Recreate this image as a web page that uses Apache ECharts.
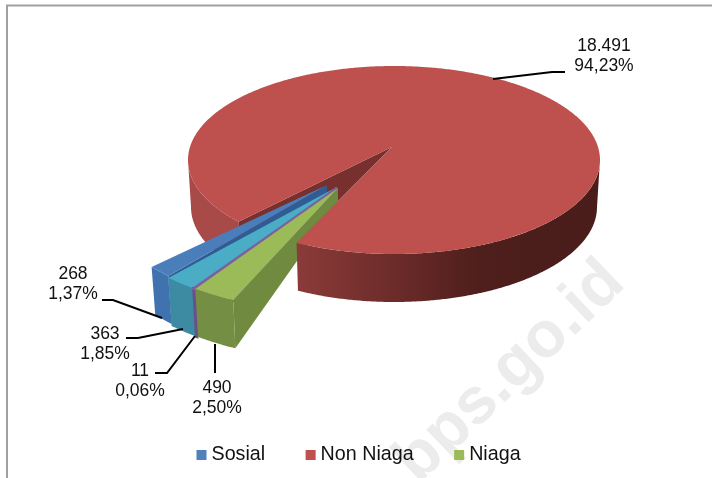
<!DOCTYPE html>
<html><head><meta charset="utf-8">
<style>html,body{margin:0;padding:0;background:#fff}#c{width:712px;height:478px}</style>
<script src="https://cdn.jsdelivr.net/npm/echarts@6/dist/echarts.min.js"></script>
</head><body><div id="c"></div>
<script>
const categories = ['Sosial', 'Non Niaga', 'Niaga', 'Lain 1', 'Lain 2'];
const values = [268, 18491, 490, 11, 363];
const valueLabels = ['268', '18.491', '490', '11', '363'];
const percentLabels = ['1,37%', '94,23%', '2,50%', '0,06%', '1,85%'];
const legendNames = ['Sosial', 'Non Niaga', 'Niaga'];
const watermark = 'bps.go.id';

const FONT = '"Liberation Sans", Arial, sans-serif';
const total = values.reduce((a, b) => a + b, 0);
const MAIN = {cx: 394, cy: 160, rx: 206, ry: 94, bx: 394, by: 207, brx: 203, bry: 95, apex: [392, 147], start: 139};
const WEDGE = {cx: 335, cy: 187, rx: 243, ry: 125, start: 115, end: 139, h: 48, lean: 0.02, hApex: 15};
const wedgeOrder = [2, 3, 4, 0];
const smallTotal = wedgeOrder.reduce((s, i) => s + values[i], 0);
const look = {
  0: {top: '#4a7ebb', front: '#3f72ae', side: '#2f5c94', apex: [327, 185], shift: [0, -2]},
  4: {top: '#4aacc5', front: '#3d8ba2', side: '#367f94', apex: [335, 188], shift: [0, 0]},
  3: {top: '#7d5fa0', front: '#6b4f8c', side: '#6b4f8c', apex: [337, 188], shift: [0, 0], stroke: 2.6},
  2: {top: '#9bbb59', front: '#748e43', side: '#708a40', apex: [338, 188], shift: [1, 0]}
};
const labels = {
  0: {x: 73, y: 284, line: [[102, 300], [113, 300], [162, 318]]},
  1: {x: 604, y: 56, line: [[493, 79], [552, 72], [565, 72]]},
  2: {x: 217, y: 398, line: [[215, 373], [215, 344]]},
  3: {x: 140, y: 381, line: [[155, 373], [167, 373], [195, 336]]},
  4: {x: 105, y: 344, line: [[126, 338], [138, 338], [183, 329]]}
};

function pt(cx, cy, rx, ry, d) {
  const a = d * Math.PI / 180;
  return [cx + rx * Math.cos(a), cy + ry * Math.sin(a)];
}
function arc(cx, cy, rx, ry, a, b) {
  const n = Math.max(2, Math.ceil(Math.abs(b - a) * 2));
  const out = [];
  for (let i = 0; i <= n; i++) out.push(pt(cx, cy, rx, ry, a + (b - a) * i / n));
  return out;
}
const poly = (points, fill, extra) => ({type: 'polygon', shape: {points}, style: Object.assign({fill}, extra || {}), silent: true});

function labelEls(i) {
  const L = labels[i];
  return [
    {type: 'polyline', shape: {points: L.line}, style: {stroke: '#000', lineWidth: 2, fill: null}, silent: true},
    {type: 'text', x: L.x, y: L.y, silent: true, style: {
      text: valueLabels[i] + '\n' + percentLabels[i], fill: '#111', fontSize: 17.5, fontFamily: FONT,
      align: 'center', verticalAlign: 'middle', lineHeight: 20}}
  ];
}

const mainEnd = MAIN.start + 360 * values[1] / total;
function mainBack() {
  const cL = pt(MAIN.cx, MAIN.cy, MAIN.rx, MAIN.ry, MAIN.start);
  const cR = pt(MAIN.cx, MAIN.cy, MAIN.rx, MAIN.ry, mainEnd);
  const wallTop = arc(MAIN.cx, MAIN.cy, MAIN.rx, MAIN.ry, MAIN.start, 180);
  const wallBot = arc(MAIN.bx, MAIN.by, MAIN.brx, MAIN.bry, 180, MAIN.start);
  return {type: 'group', children: [
    poly(wallTop.concat(wallBot), '#a84a47'),
    poly([cL, MAIN.apex, cR, [cR[0], cR[1] + 6], [cL[0], cL[1] + 20]], '#77302e')
  ]};
}
function mainFront() {
  const wallTop = arc(MAIN.cx, MAIN.cy, MAIN.rx, MAIN.ry, mainEnd - 360, 0);
  const wallBot = arc(MAIN.bx, MAIN.by, MAIN.brx, MAIN.bry, 0, mainEnd - 360);
  const top = arc(MAIN.cx, MAIN.cy, MAIN.rx, MAIN.ry, MAIN.start, mainEnd);
  top.unshift(MAIN.apex);
  const grad = new echarts.graphic.LinearGradient(0, 0, 1, 0, [
    {offset: 0, color: '#8b3b39'}, {offset: 0.33, color: '#6b2b29'},
    {offset: 0.6, color: '#4e1f1c'}, {offset: 1, color: '#4a1d1a'}]);
  return {type: 'group', children: [
    poly(wallTop.concat(wallBot), grad),
    poly(top, '#be504d')
  ].concat(labelEls(1))};
}
function wedge(i) {
  let before = 0;
  for (const k of wedgeOrder) { if (k === i) break; before += values[k]; }
  const span = WEDGE.end - WEDGE.start;
  const a = WEDGE.start + span * before / smallTotal;
  const b = a + span * values[i] / smallTotal;
  const s = look[i];
  const rim = arc(WEDGE.cx + s.shift[0], WEDGE.cy + s.shift[1], WEDGE.rx, WEDGE.ry, a, b);
  const down = p => [p[0] + (WEDGE.cx - p[0]) * WEDGE.lean, p[1] + WEDGE.h];
  const rimB = rim.map(down).reverse();
  const apexB = [s.apex[0], s.apex[1] + WEDGE.hApex];
  const extra = s.stroke ? {stroke: s.top, lineWidth: s.stroke} : null;
  return {type: 'group', children: [
    poly([s.apex, rim[0], down(rim[0]), apexB], s.side),
    poly(rim.concat(rimB), s.front, s.stroke ? {stroke: s.front, lineWidth: s.stroke} : null),
    poly([s.apex].concat(rim), s.top, extra)
  ].concat(labelEls(i))};
}
const custom = (name, z, color, render) => ({
  type: 'custom', name, z, coordinateSystem: 'none', silent: true, animation: false,
  itemStyle: {color}, data: [[1]], renderItem: render
});

const chart = echarts.init(document.getElementById('c'), null, {renderer: 'canvas'});
chart.setOption({
  animation: false,
  backgroundColor: '#fff',
  legend: {
    left: 196.5, top: 445, itemWidth: 10, itemHeight: 10, itemGap: 40.5, icon: 'rect', padding: 0, selectedMode: false,
    textStyle: {fontSize: 19.7, fontFamily: FONT, color: '#111', padding: [2, 0, 0, 0]},
    data: legendNames.map((name, i) => ({name, itemStyle: {color: ['#4f81bd', '#c0504d', '#9bbb59'][i]}}))
  },
  graphic: {elements: [
    {type: 'text', z: 0, silent: true, x: 637, y: 296, rotation: Math.PI / 4 * 0.97, style: {
      text: watermark, fill: '#ececec', fontSize: 65, fontWeight: 'bold', fontFamily: FONT, align: 'right', verticalAlign: 'bottom'}},
    {type: 'polyline', z: 0, silent: true, shape: {points: [[7, 478], [7, 5.5], [712, 5.5]]}, style: {stroke: '#a0a0a0', lineWidth: 2, fill: null}}
  ]},
  series: [
    custom(categories[1], 1, '#c0504d', mainBack),
    custom(categories[0], 2, '#4f81bd', () => wedge(0)),
    custom(categories[4], 3, '#4bacc6', () => wedge(4)),
    custom(categories[3], 4, '#8064a2', () => wedge(3)),
    custom(categories[2], 5, '#9bbb59', () => wedge(2)),
    custom(categories[1], 6, '#c0504d', mainFront)
  ]
});
</script></body></html>
